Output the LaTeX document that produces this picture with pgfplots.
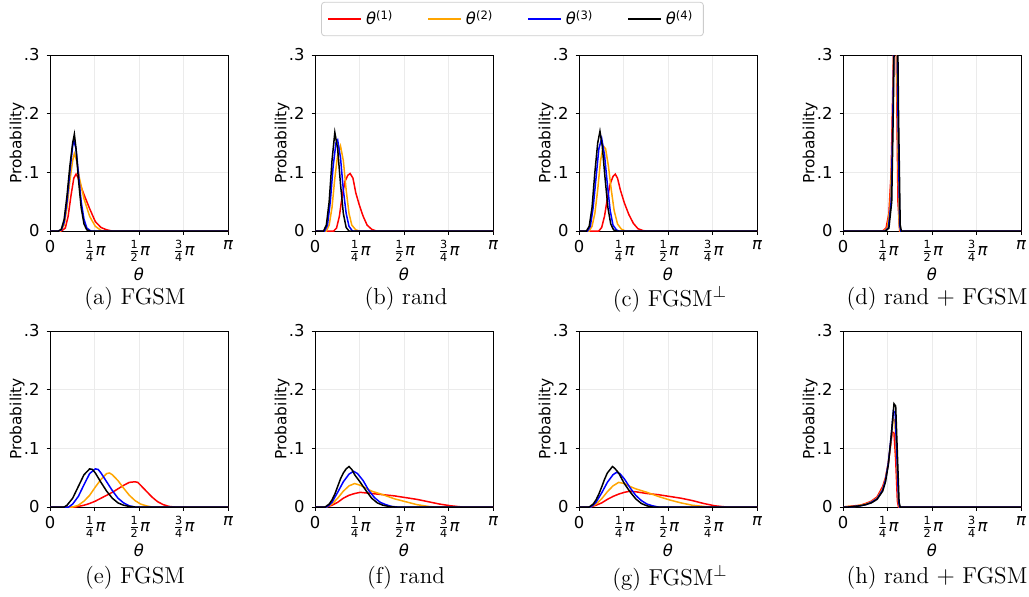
\documentclass[border=0pt]{standalone}
\usepackage{fontspec}
\usepackage{pgfplots}
\pgfplotsset{compat=1.18}
\newfontfamily\dv{DejaVu Sans}
\newcommand\tickf{\dv\fontsize{8.2}{10}\selectfont}
\newcommand\labf{\dv\fontsize{7.7}{9}\selectfont}
\newcommand\fr[2]{$\frac{\hbox{\dv\fontsize{5.6}{6}\selectfont #1}}{\hbox{\dv\fontsize{5.6}{6}\selectfont #2}}$\hbox{\dv\itshape π}}
\newcommand\thet[1]{\hbox{\dv\itshape θ}$^{\hbox{\dv\fontsize{5.8}{6}\selectfont(#1)}}$}
\definecolor{mporange}{HTML}{FFA500}
\pgfplotsset{
  hist/.style={
    scale only axis, width=89pt, height=88pt, anchor=south west,
    xmin=0, xmax=3.14159, ymin=0, ymax=0.3,
    xtick={0,0.7854,1.5708,2.3562,3.14159},
    xticklabels={0,\fr{1}{4},\fr{1}{2},\fr{3}{4},\hbox{\dv\itshape π}},
    ytick={0,0.1,0.2,0.3}, yticklabels={0,.1,.2,.3},
    grid=major, major grid style={black!8, line width=0.4pt},
    tick align=outside, tick pos=left, major tick length=1.75pt,
    tick style={black, line width=0.4pt},
    axis line style={line width=0.5pt},
    ticklabel style={font=\tickf},
    xticklabel style={yshift=0.5pt},
    xlabel={\hbox{\dv\itshape θ}}, ylabel={Probability},
    xlabel style={font=\tickf, at={(axis description cs:0.5,-0.245)}, anchor=center},
    ylabel style={font=\labf, at={(axis description cs:-0.185,0.5)}, anchor=center},
    every axis plot/.append style={line width=0.75pt, no marks},
  },
  r1/.style={red}, r2/.style={mporange}, r3/.style={blue}, r4/.style={black},
}
\begin{document}
\begin{tikzpicture}
\useasboundingbox (0,0) rectangle (514.5pt,-298pt);
% (a) FGSM
\begin{axis}[hist, at={(25pt,-115.5pt)},
  legend columns=4,
  legend image code/.code={\draw[#1] (0pt,0pt) -- (16.5pt,0pt);},
  legend style={at={(axis description cs:2.598,1.2045)}, anchor=center,
    draw=black!20, rounded corners=1.5pt, font=\tickf,
    /tikz/every even column/.append style={column sep=15pt}},
  ]
\addplot[r1] coordinates {(0,0)(0.2,0)(0.27,0.005)(0.32,0.025)(0.37,0.06)(0.42,0.09)(0.46,0.097)(0.5,0.09)(0.55,0.075)(0.6,0.062)(0.7,0.038)(0.8,0.016)(0.9,0.006)(1.0,0.002)(1.1,0)(3.1416,0)};
\addlegendentry{\thet{1}}
\addplot[r2] coordinates {(0,0)(0.18,0)(0.25,0.01)(0.3,0.04)(0.35,0.085)(0.4,0.12)(0.43,0.132)(0.47,0.12)(0.52,0.09)(0.6,0.055)(0.7,0.025)(0.8,0.008)(0.9,0.001)(0.95,0)(3.1416,0)};
\addlegendentry{\thet{2}}
\addplot[r3] coordinates {(0,0)(0.15,0)(0.2,0.002)(0.25,0.015)(0.3,0.05)(0.35,0.1)(0.4,0.145)(0.42,0.155)(0.46,0.14)(0.5,0.1)(0.55,0.05)(0.6,0.02)(0.65,0.005)(0.72,0)(3.1416,0)};
\addlegendentry{\thet{3}}
\addplot[r4] coordinates {(0,0)(0.15,0)(0.2,0.003)(0.25,0.02)(0.3,0.06)(0.35,0.11)(0.4,0.15)(0.43,0.165)(0.46,0.14)(0.5,0.09)(0.55,0.04)(0.6,0.012)(0.65,0.002)(0.7,0)(3.1416,0)};
\addlegendentry{\thet{4}}
\end{axis}
% (b) rand
\begin{axis}[hist, at={(157.5pt,-115.5pt)}]
\addplot[r1] coordinates {(0,0)(0.33,0)(0.38,0.005)(0.43,0.025)(0.48,0.06)(0.53,0.085)(0.58,0.095)(0.62,0.098)(0.67,0.09)(0.72,0.065)(0.78,0.045)(0.85,0.025)(0.92,0.01)(1.0,0.003)(1.08,0)(3.1416,0)};
\addplot[r2] coordinates {(0,0)(0.2,0)(0.25,0.01)(0.3,0.04)(0.35,0.09)(0.4,0.13)(0.45,0.145)(0.5,0.12)(0.55,0.07)(0.6,0.03)(0.65,0.01)(0.72,0.002)(0.78,0)(3.1416,0)};
\addplot[r3] coordinates {(0,0)(0.17,0)(0.22,0.01)(0.27,0.05)(0.32,0.11)(0.37,0.15)(0.4,0.155)(0.45,0.125)(0.5,0.07)(0.55,0.03)(0.6,0.008)(0.66,0)(3.1416,0)};
\addplot[r4] coordinates {(0,0)(0.15,0)(0.2,0.01)(0.25,0.05)(0.3,0.12)(0.35,0.168)(0.4,0.14)(0.45,0.08)(0.5,0.03)(0.55,0.006)(0.6,0)(3.1416,0)};
\end{axis}
% (c) FGSM perp
\begin{axis}[hist, at={(289.5pt,-115.5pt)}]
\addplot[r1] coordinates {(0,0)(0.35,0)(0.4,0.006)(0.45,0.025)(0.5,0.055)(0.55,0.08)(0.6,0.093)(0.64,0.097)(0.68,0.09)(0.73,0.07)(0.8,0.048)(0.88,0.028)(0.96,0.013)(1.04,0.004)(1.12,0.001)(1.18,0)(3.1416,0)};
\addplot[r2] coordinates {(0,0)(0.18,0)(0.23,0.008)(0.28,0.03)(0.33,0.07)(0.38,0.12)(0.43,0.145)(0.47,0.14)(0.52,0.11)(0.57,0.07)(0.62,0.035)(0.68,0.012)(0.75,0.003)(0.82,0)(3.1416,0)};
\addplot[r3] coordinates {(0,0)(0.15,0)(0.2,0.008)(0.25,0.04)(0.3,0.09)(0.35,0.14)(0.4,0.158)(0.45,0.13)(0.5,0.08)(0.55,0.035)(0.6,0.01)(0.66,0.002)(0.7,0)(3.1416,0)};
\addplot[r4] coordinates {(0,0)(0.13,0)(0.18,0.008)(0.23,0.04)(0.28,0.1)(0.33,0.15)(0.37,0.17)(0.41,0.145)(0.46,0.09)(0.51,0.04)(0.56,0.012)(0.61,0.002)(0.66,0)(3.1416,0)};
\end{axis}
% (d) rand + FGSM
\begin{axis}[hist, at={(421.5pt,-115.5pt)}]
\addplot[r1] coordinates {(0,0)(0.7,0)(0.76,0.005)(0.81,0.03)(0.85,0.1)(0.88,0.25)(0.91,0.4)(0.94,0.3)(0.97,0.05)(1.0,0)(3.1416,0)};
\addplot[r2] coordinates {(0,0)(0.72,0)(0.78,0.005)(0.83,0.04)(0.87,0.15)(0.9,0.35)(0.93,0.42)(0.96,0.2)(0.99,0.01)(1.01,0)(3.1416,0)};
\addplot[r3] coordinates {(0,0)(0.74,0)(0.8,0.005)(0.85,0.05)(0.88,0.2)(0.91,0.4)(0.94,0.45)(0.97,0.2)(1.0,0.01)(1.02,0)(3.1416,0)};
\addplot[r4] coordinates {(0,0)(0.75,0)(0.81,0.005)(0.86,0.05)(0.89,0.22)(0.92,0.45)(0.95,0.48)(0.98,0.2)(1.01,0.01)(1.03,0)(3.1416,0)};
\end{axis}
% (e) FGSM
\begin{axis}[hist, at={(25pt,-253.5pt)}]
\addplot[r1] coordinates {(0,0)(0.45,0)(0.6,0.003)(0.7,0.006)(0.8,0.01)(0.9,0.015)(1.0,0.02)(1.1,0.025)(1.2,0.031)(1.3,0.037)(1.4,0.042)(1.5,0.043)(1.55,0.042)(1.6,0.037)(1.7,0.027)(1.8,0.017)(1.9,0.009)(2.0,0.004)(2.1,0.001)(2.2,0)(3.1416,0)};
\addplot[r2] coordinates {(0,0)(0.4,0)(0.5,0.003)(0.6,0.01)(0.7,0.02)(0.8,0.034)(0.9,0.047)(1.0,0.057)(1.05,0.058)(1.1,0.055)(1.2,0.045)(1.3,0.032)(1.4,0.02)(1.5,0.011)(1.6,0.005)(1.7,0.002)(1.8,0)(3.1416,0)};
\addplot[r3] coordinates {(0,0)(0.33,0)(0.4,0.005)(0.5,0.018)(0.6,0.038)(0.7,0.057)(0.8,0.065)(0.85,0.064)(0.9,0.058)(1.0,0.043)(1.1,0.028)(1.2,0.015)(1.3,0.007)(1.4,0.002)(1.5,0)(3.1416,0)};
\addplot[r4] coordinates {(0,0)(0.25,0)(0.3,0.003)(0.4,0.015)(0.5,0.035)(0.6,0.055)(0.7,0.065)(0.75,0.064)(0.8,0.058)(0.9,0.042)(1.0,0.027)(1.1,0.015)(1.2,0.007)(1.3,0.003)(1.4,0.001)(1.5,0)(3.1416,0)};
\end{axis}
% (f) rand
\begin{axis}[hist, at={(157.5pt,-253.5pt)}]
\addplot[r1] coordinates {(0,0)(0.2,0)(0.3,0.003)(0.4,0.008)(0.5,0.015)(0.6,0.02)(0.7,0.023)(0.8,0.025)(0.9,0.024)(1.0,0.023)(1.2,0.021)(1.4,0.019)(1.6,0.016)(1.8,0.013)(2.0,0.009)(2.2,0.005)(2.4,0.002)(2.6,0)(3.1416,0)};
\addplot[r2] coordinates {(0,0)(0.2,0)(0.3,0.005)(0.4,0.015)(0.5,0.027)(0.6,0.036)(0.7,0.04)(0.8,0.037)(0.9,0.032)(1.0,0.027)(1.2,0.021)(1.4,0.014)(1.6,0.009)(1.8,0.004)(2.0,0.001)(2.1,0)(3.1416,0)};
\addplot[r3] coordinates {(0,0)(0.2,0)(0.25,0.003)(0.3,0.008)(0.4,0.025)(0.5,0.043)(0.6,0.056)(0.68,0.061)(0.75,0.057)(0.85,0.045)(0.95,0.028)(1.05,0.016)(1.15,0.008)(1.25,0.004)(1.35,0.001)(1.45,0)(3.1416,0)};
\addplot[r4] coordinates {(0,0)(0.18,0)(0.25,0.005)(0.3,0.012)(0.35,0.022)(0.4,0.035)(0.45,0.048)(0.5,0.058)(0.55,0.065)(0.6,0.069)(0.65,0.064)(0.7,0.055)(0.8,0.042)(0.9,0.028)(1.0,0.015)(1.1,0.007)(1.2,0.003)(1.3,0.001)(1.4,0)(3.1416,0)};
\end{axis}
% (g) FGSM perp
\begin{axis}[hist, at={(289.5pt,-253.5pt)}]
\addplot[r1] coordinates {(0,0)(0.2,0)(0.3,0.003)(0.4,0.007)(0.5,0.013)(0.6,0.018)(0.7,0.022)(0.8,0.025)(0.9,0.027)(1.0,0.026)(1.2,0.023)(1.4,0.021)(1.6,0.018)(1.8,0.015)(2.0,0.011)(2.2,0.006)(2.4,0.002)(2.6,0)(3.1416,0)};
\addplot[r2] coordinates {(0,0)(0.2,0)(0.3,0.005)(0.4,0.014)(0.5,0.026)(0.6,0.036)(0.7,0.042)(0.8,0.04)(0.9,0.035)(1.0,0.031)(1.2,0.025)(1.4,0.018)(1.6,0.012)(1.8,0.007)(2.0,0.003)(2.2,0.001)(2.3,0)(3.1416,0)};
\addplot[r3] coordinates {(0,0)(0.2,0)(0.25,0.003)(0.3,0.008)(0.4,0.024)(0.5,0.042)(0.6,0.055)(0.66,0.059)(0.72,0.057)(0.8,0.048)(0.9,0.033)(1.0,0.02)(1.1,0.011)(1.2,0.005)(1.3,0.002)(1.4,0)(3.1416,0)};
\addplot[r4] coordinates {(0,0)(0.18,0)(0.25,0.005)(0.3,0.012)(0.35,0.022)(0.4,0.034)(0.45,0.047)(0.5,0.058)(0.55,0.064)(0.59,0.069)(0.63,0.066)(0.7,0.058)(0.8,0.04)(0.9,0.026)(1.0,0.014)(1.1,0.006)(1.2,0.002)(1.3,0)(3.1416,0)};
\end{axis}
% (h) rand + FGSM
\begin{axis}[hist, at={(421.5pt,-253.5pt)}]
\addplot[r1] coordinates {(0,0)(0.1,0.001)(0.2,0.002)(0.3,0.003)(0.4,0.006)(0.5,0.01)(0.6,0.017)(0.7,0.035)(0.75,0.05)(0.8,0.075)(0.84,0.105)(0.87,0.128)(0.9,0.126)(0.93,0.08)(0.96,0.01)(0.98,0)(3.1416,0)};
\addplot[r2] coordinates {(0,0)(0.1,0.001)(0.2,0.001)(0.3,0.003)(0.4,0.005)(0.5,0.009)(0.6,0.015)(0.7,0.031)(0.75,0.048)(0.8,0.075)(0.85,0.115)(0.885,0.15)(0.915,0.148)(0.945,0.085)(0.975,0.01)(0.995,0)(3.1416,0)};
\addplot[r3] coordinates {(0,0)(0.1,0)(0.2,0.001)(0.3,0.002)(0.4,0.004)(0.5,0.008)(0.6,0.014)(0.7,0.029)(0.75,0.046)(0.8,0.075)(0.85,0.12)(0.89,0.164)(0.92,0.16)(0.95,0.09)(0.98,0.01)(1.0,0)(3.1416,0)};
\addplot[r4] coordinates {(0,0)(0.1,0)(0.2,0.001)(0.3,0.002)(0.4,0.004)(0.5,0.007)(0.6,0.013)(0.7,0.027)(0.75,0.043)(0.8,0.072)(0.85,0.12)(0.9,0.176)(0.93,0.172)(0.96,0.09)(0.99,0.008)(1.01,0)(3.1416,0)};
\end{axis}
% captions
\begin{scope}[every node/.style={font=\fontsize{11.5}{13}\selectfont}]
\node at (67.5pt,-149.5pt) {(a) FGSM};
\node at (203pt,-149.5pt) {(b) rand};
\node at (335pt,-149.5pt) {(c) FGSM$^\perp$};
\node at (468.5pt,-149.5pt) {(d) rand $+$ FGSM};
\node at (67.5pt,-289pt) {(e) FGSM};
\node at (203pt,-289pt) {(f) rand};
\node at (335pt,-289pt) {(g) FGSM$^\perp$};
\node at (468.5pt,-289pt) {(h) rand $+$ FGSM};
\end{scope}
\end{tikzpicture}
\end{document}
